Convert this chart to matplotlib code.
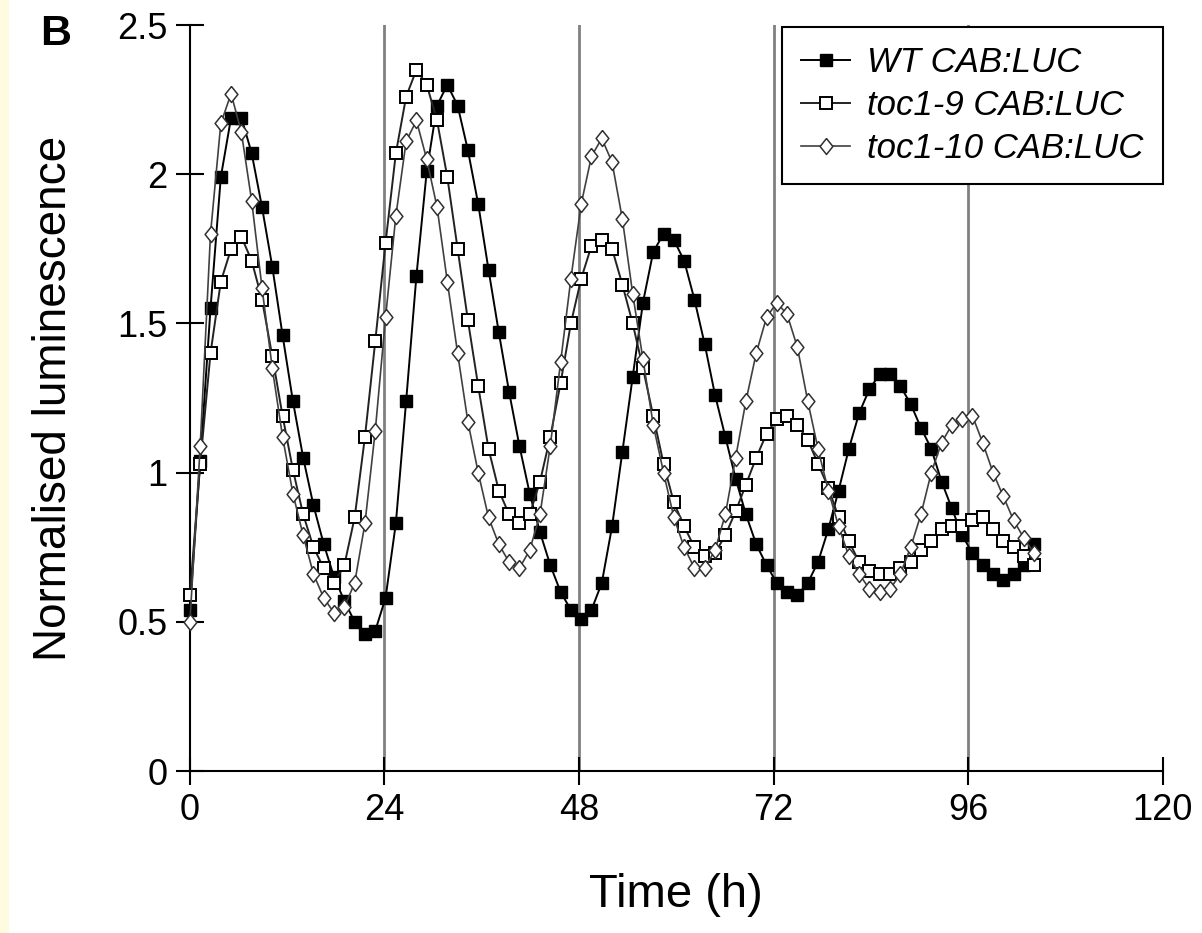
import numpy as np
import matplotlib
matplotlib.use("Agg")
import matplotlib.pyplot as plt
from matplotlib.patches import Rectangle
from matplotlib.ticker import FuncFormatter

plt.rcParams['font.family'] = ['Liberation Sans', 'DejaVu Sans']

# normalised luminescence, one sample every ~1.27 h
wt = [0.54, 1.04, 1.55, 1.99, 2.19, 2.19, 2.07, 1.89, 1.69, 1.46,
      1.24, 1.05, 0.89, 0.76, 0.65, 0.57, 0.50, 0.46, 0.47, 0.58,
      0.83, 1.24, 1.66, 2.01, 2.23, 2.30, 2.23, 2.08, 1.90, 1.68,
      1.47, 1.27, 1.09, 0.93, 0.80, 0.69, 0.60, 0.54, 0.51, 0.54,
      0.63, 0.82, 1.07, 1.32, 1.57, 1.74, 1.80, 1.78, 1.71, 1.58,
      1.43, 1.26, 1.12, 0.98, 0.86, 0.76, 0.69, 0.63, 0.60, 0.59,
      0.63, 0.70, 0.81, 0.94, 1.08, 1.20, 1.28, 1.33, 1.33, 1.29,
      1.23, 1.15, 1.08, 0.97, 0.88, 0.79, 0.73, 0.69, 0.66, 0.64,
      0.66, 0.69, 0.76]
toc1_9 = [0.59, 1.03, 1.40, 1.64, 1.75, 1.79, 1.71, 1.58, 1.39, 1.19,
          1.01, 0.86, 0.75, 0.68, 0.63, 0.69, 0.85, 1.12, 1.44, 1.77,
          2.07, 2.26, 2.35, 2.30, 2.18, 1.99, 1.75, 1.51, 1.29, 1.08,
          0.94, 0.86, 0.83, 0.86, 0.97, 1.12, 1.30, 1.50, 1.65, 1.76,
          1.78, 1.75, 1.63, 1.50, 1.35, 1.19, 1.03, 0.90, 0.82, 0.75,
          0.72, 0.73, 0.79, 0.87, 0.96, 1.05, 1.13, 1.18, 1.19, 1.16,
          1.11, 1.03, 0.95, 0.85, 0.77, 0.70, 0.67, 0.66, 0.66, 0.68,
          0.70, 0.74, 0.77, 0.81, 0.82, 0.82, 0.84, 0.85, 0.81, 0.77,
          0.75, 0.72, 0.69]
toc1_10 = [0.50, 1.09, 1.80, 2.17, 2.27, 2.14, 1.91, 1.62, 1.35, 1.12,
           0.93, 0.79, 0.66, 0.58, 0.53, 0.55, 0.63, 0.83, 1.14, 1.52,
           1.86, 2.11, 2.18, 2.05, 1.89, 1.64, 1.40, 1.17, 1.00, 0.85,
           0.76, 0.70, 0.68, 0.74, 0.86, 1.09, 1.37, 1.65, 1.90, 2.06,
           2.12, 2.04, 1.85, 1.60, 1.38, 1.16, 1.00, 0.85, 0.75, 0.68,
           0.68, 0.74, 0.86, 1.05, 1.24, 1.40, 1.52, 1.57, 1.53, 1.42,
           1.24, 1.08, 0.94, 0.82, 0.72, 0.66, 0.61, 0.60, 0.61, 0.66,
           0.75, 0.86, 1.00, 1.10, 1.16, 1.18, 1.19, 1.10, 1.00, 0.92,
           0.84, 0.78, 0.73]
sample_step = 1.27
time_h = np.arange(len(wt)) * sample_step

labels = ["WT CAB:LUC", "toc1-9 CAB:LUC", "toc1-10 CAB:LUC"]
xticks = [0, 24, 48, 72, 96, 120]
yticks = [0, 0.5, 1, 1.5, 2, 2.5]

fig = plt.figure(figsize=(12.02, 9.33), dpi=100)
fig.patches.append(Rectangle((0, 0), 0.007, 1, transform=fig.transFigure,
                             color='#fffbe0', zorder=-1))
ax = fig.add_axes([0.158, 0.1736, 0.8094, 0.7996])

for x in xticks[1:-1]:
    ax.axvline(x, color='#808080', lw=2, zorder=0)

diamond = [(0, 1), (0.8, 0), (0, -1), (-0.8, 0), (0, 1)]

ax.plot(time_h, wt, '-s', color='black', mfc='black', mec='black',
        ms=9, lw=1.4, label=labels[0], clip_on=False, zorder=3)
ax.plot(time_h, toc1_9, '-s', color='#222222', mfc='white', mec='black',
        ms=9, mew=1.4, lw=1.4, label=labels[1], clip_on=False, zorder=4)
ax.plot(time_h, toc1_10, '-', marker=diamond, color='#404040', mfc='white',
        mec='#303030', ms=11.5, mew=1.1, lw=1.2, label=labels[2],
        clip_on=False, zorder=5)

ax.set_xlim(0, 120)
ax.set_ylim(0, 2.5)
ax.set_xticks(xticks)
ax.set_yticks(yticks)
ax.yaxis.set_major_formatter(FuncFormatter(lambda v, p: '%g' % v))
ax.tick_params(direction='inout', length=20, width=1.5, labelsize=26, pad=6)
for s in ['top', 'right']:
    ax.spines[s].set_visible(False)
for s in ['left', 'bottom']:
    ax.spines[s].set_linewidth(1.5)

ax.set_xlabel('Time (h)', fontsize=34, labelpad=32)
ax.set_ylabel('Normalised luminescence', fontsize=33, labelpad=30)

leg = ax.legend(loc='upper right', bbox_to_anchor=(1.0, 0.997), borderaxespad=0,
                prop={'style': 'italic', 'size': 25}, fancybox=False,
                edgecolor='black', framealpha=1, handlelength=1.4,
                handletextpad=0.5, labelspacing=0.28, borderpad=0.55)
leg.get_frame().set_linewidth(1.5)

fig.text(0.033, 0.985, 'B', fontsize=31, fontweight='bold', va='top')

plt.savefig('out.png', dpi=100)
